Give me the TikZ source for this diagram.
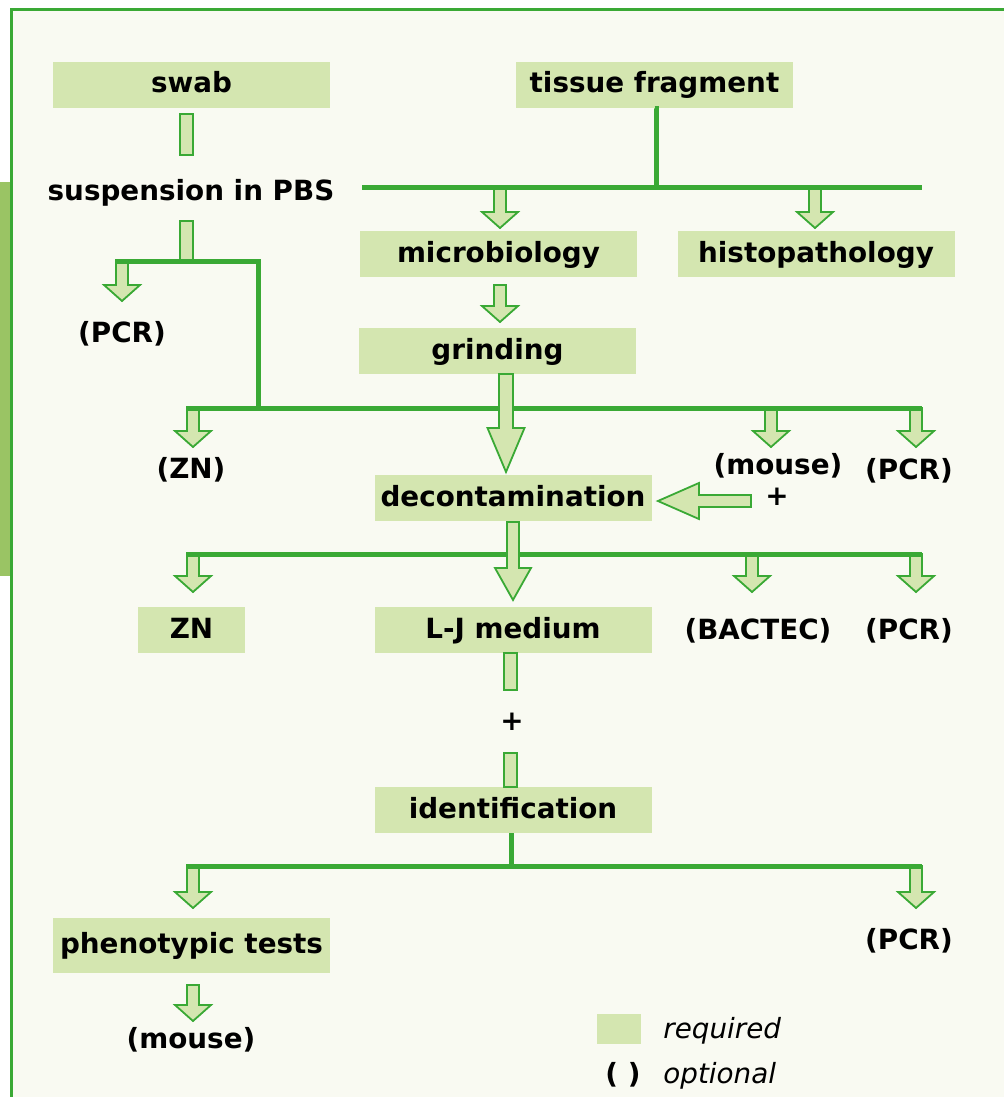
\documentclass[tikz,border=0pt]{standalone}
\usepackage{fontspec}
\setmainfont{DejaVu Sans}
\usetikzlibrary{calc}
\definecolor{boxgreen}{HTML}{D4E6B0}
\definecolor{linegreen}{HTML}{3AA935}
\definecolor{paper}{HTML}{F9FAF2}
\definecolor{sidebar}{HTML}{9AC464}
\newcommand{\labelfont}{\fontsize{13.9}{16}\selectfont\bfseries}
\newcommand{\keyfont}{\fontsize{13.9}{16}\selectfont\itshape}
% hollow down arrow, shaft from #1, tip at the height of #2
\newcommand{\downArrow}[2]{\draw[arrowline] ($(#1)+(-6,0)$) -- ($(#1 |- #2)+(-6,-16)$) -- ($(#1 |- #2)+(-18,-16)$) -- (#1 |- #2) -- ($(#1 |- #2)+(18,-16)$) -- ($(#1 |- #2)+(6,-16)$) -- ($(#1)+(6,0)$) -- cycle;}
\newcommand{\bigArrow}[2]{\draw[arrowline] ($(#1)+(-7,0)$) -- ($(#1 |- #2)+(-7,-44)$) -- ($(#1 |- #2)+(-18.5,-44)$) -- (#1 |- #2) -- ($(#1 |- #2)+(18.5,-44)$) -- ($(#1 |- #2)+(7,-44)$) -- ($(#1)+(7,0)$) -- cycle;}
\newcommand{\stemBar}[2]{\draw[arrowline] ($(#1)+(-6.5,0)$) rectangle ($(#1 |- #2)+(6.5,0)$);}

\begin{document}
\begin{tikzpicture}[x=0.5pt,y=-0.5pt]
            \tikzstyle{box} = [fill=boxgreen, minimum width=138.5pt, minimum height=23pt, inner sep=0pt, font=\labelfont, text height=0.9em, text depth=0.1em]
            \tikzstyle{label} = [inner sep=0pt, font=\labelfont, text height=0.9em, text depth=0.1em]
            \tikzstyle{branch} = [draw=linegreen, line width=2.5pt]
            \tikzstyle{arrowline} = [draw=linegreen, fill=boxgreen, line width=0.9pt]
            \useasboundingbox (0,0) rectangle (1004,1097);
            \fill[white] (0,0) rectangle (1004,1097);
            \fill[paper] (11,9) rectangle (1004,1097);
            \draw[linegreen, line width=1.5pt] (11.5,1097) -- (11.5,9.5) -- (1004,9.5);
            \fill[sidebar] (0,182) rectangle (10,576);

            \node[box] (swab) at (191.5,85) {swab};
            \node[box] (tissue) at (654.5,85) {tissue fragment};
            \node[label] (susp) at (191,192) {suspension in PBS};
            \node[box] (micro) at (498.5,254) {microbiology};
            \node[box] (histo) at (816,254) {histopathology};
            \node[label] (pcrA) at (122,334) {(PCR)};
            \node[box] (grind) at (497.5,351) {grinding};
            \node[label] (znopt) at (191,470) {(ZN)};
            \node[label] (mouseA) at (778,466) {(mouse)};
            \node[label] (plusA) at (777,497) {+};
            \node[label] (pcrB) at (909,471) {(PCR)};
            \node[box] (decon) at (513,498) {decontamination};
            \node[box, minimum width=53.5pt] (zn) at (191.5,630) {ZN};
            \node[box] (lj) at (513,630) {L-J medium};
            \node[label] (bactec) at (758,631) {(BACTEC)};
            \node[label] (pcrC) at (909,631) {(PCR)};
            \node[label] (plusB) at (512,722) {+};
            \node[box] (ident) at (513,810) {identification};
            \node[box, minimum height=27.5pt] (pheno) at (191.5,945.5) {phenotypic tests};
            \node[label] (pcrD) at (909,941) {(PCR)};
            \node[label] (mouseB) at (191,1040) {(mouse)};

            % junctions on the branch lines
            \coordinate (forkA) at (656,187);
            \coordinate (forkAL) at (362,187);
            \coordinate (forkAR) at (922,187);
            \coordinate (forkB) at (186.5,261);
            \coordinate (forkBL) at (115,261);
            \coordinate (forkBR) at (258,261);
            \coordinate (forkCL) at (186,408);
            \coordinate (forkCR) at (922,408);
            \coordinate (forkDL) at (186,554);
            \coordinate (forkDR) at (922,554);
            \coordinate (forkE) at (511,866);
            \coordinate (forkEL) at (186,866);
            \coordinate (forkER) at (922,866);

            % stems without heads
            \coordinate (swabOut) at (186.5,114);
            \coordinate (suspIn) at (186.5,155);
            \coordinate (suspOut) at (186.5,221);
            \coordinate (ljOut) at (510.5,653);
            \coordinate (plusOut) at (510.5,690);
            \coordinate (identIn) at (510.5,753);
            \stemBar{swabOut}{suspIn}
            \stemBar{suspOut}{forkB}
            \stemBar{ljOut}{plusOut}
            \stemBar{identIn}{ident.north}

            % small arrows
            \downArrow{500,187}{500,228}
            \downArrow{815,187}{815,228}
            \downArrow{500,285}{500,322}
            \downArrow{122,261}{122,301}
            \downArrow{193,408}{193,447}
            \downArrow{771,408}{771,447}
            \downArrow{916,408}{916,447}
            \downArrow{193,554}{193,592}
            \downArrow{752,554}{752,592}
            \downArrow{916,554}{916,592}
            \downArrow{193,866}{193,908}
            \downArrow{916,866}{916,908}
            \downArrow{193,985}{193,1021}

            \draw[branch] (forkAL) -- (forkAR);
            \draw[branch] (tissue.south) -- (tissue.south -| forkA) -- (forkA);
            \draw[branch] (forkBL) -- (forkBR) -- (forkBR |- forkCL);
            \draw[branch] (forkCL) -- (forkCR);
            \draw[branch] (forkDL) -- (forkDR);
            \draw[branch] (forkEL) -- (forkER);
            \draw[branch] (ident.south -| forkE) -- (forkE);

            % big arrows
            \bigArrow{506,374}{506,472}
            \draw[arrowline] (513,522) -- (507,522) -- (507,568) -- (495,568) -- (513,600) -- (531,568) -- (519,568) -- (519,522) -- cycle;
            \coordinate (mouseIn) at (751,501);
            \coordinate (deconIn) at ($(decon.east |- mouseIn)+(6,0)$);
            \draw[arrowline] ($(mouseIn)+(0,-6)$) -- ($(deconIn)+(41,-6)$) -- ($(deconIn)+(41,-18)$) -- (deconIn) -- ($(deconIn)+(41,18)$) -- ($(deconIn)+(41,6)$) -- ($(mouseIn)+(0,6)$) -- cycle;

            % key
            \node[fill=boxgreen, minimum width=22pt, minimum height=15pt, inner sep=0pt] (keybox) at (619,1029) {};
            \node[label, font=\keyfont, anchor=west] (keyreq) at (663,1030) {required};
            \node[label] (keyparen) at (623,1075) {( )};
            \node[label, font=\keyfont, anchor=west] (keyopt) at (663,1075) {optional};
        \end{tikzpicture}
\end{document}
